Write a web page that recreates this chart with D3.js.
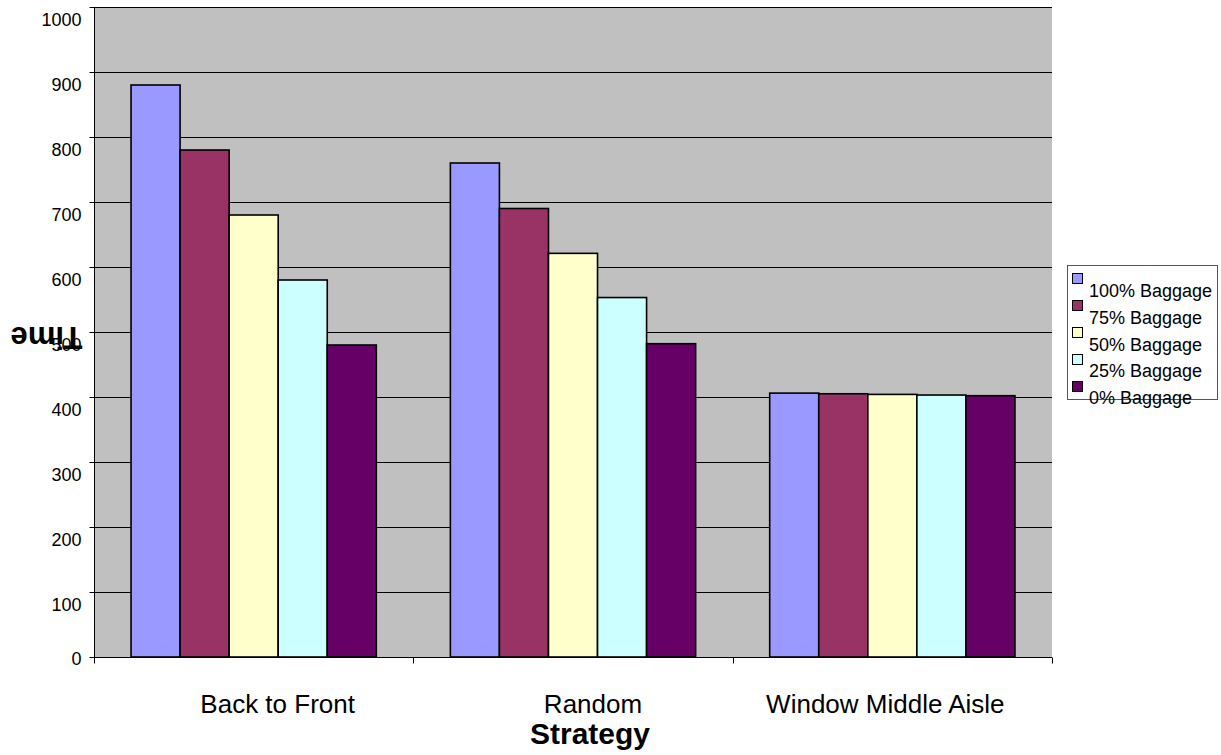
<!DOCTYPE html>
<html>
<head>
<meta charset="utf-8">
<script src="https://cdn.jsdelivr.net/npm/d3@7"></script>
<style>
  html, body { margin: 0; padding: 0; background: #fff; }
  svg { display: block; }
  text { font-family: Arial, "Liberation Sans", sans-serif; fill: #000; }
</style>
</head>
<body>
<svg id="chart" width="1221" height="755"></svg>
<script>
// Boarding time by strategy and baggage load
const strategies = ["Back to Front", "Random", "Window Middle Aisle"];
const seriesNames = ["100% Baggage", "75% Baggage", "50% Baggage", "25% Baggage", "0% Baggage"];
const seriesColors = ["#9999FF", "#993366", "#FFFFCC", "#CCFFFF", "#660066"];
const backToFront = [880, 780, 680, 580, 480];
const randomOrder = [760, 690, 621, 553, 482];
const windowMiddleAisle = [406, 405, 404, 403, 402];
const yTicks = [0, 100, 200, 300, 400, 500, 600, 700, 800, 900, 1000];

const values = [backToFront, randomOrder, windowMiddleAisle];

const svg = d3.select("#chart");
const plot = { left: 94, right: 1052, top: 7, bottom: 657 };

const x = d3.scaleBand().domain(strategies).range([plot.left, plot.right]).padding(0);
const xs = d3.scaleBand().domain(seriesNames).range([0, x.bandwidth()])
  .paddingInner(0).paddingOuter(0.755);
const y = d3.scaleLinear().domain([0, 1000]).range([plot.bottom, plot.top]);

// plot background
svg.append("rect")
  .attr("x", plot.left).attr("y", plot.top)
  .attr("width", plot.right - plot.left).attr("height", plot.bottom - plot.top)
  .attr("fill", "#C0C0C0");

// horizontal gridlines
svg.append("g").selectAll("line")
  .data(yTicks.filter(d => d > 0))
  .join("line")
  .attr("x1", plot.left).attr("x2", plot.right)
  .attr("y1", d => Math.round(y(d)) + 0.5).attr("y2", d => Math.round(y(d)) + 0.5)
  .attr("stroke", "#000").attr("stroke-width", 1);

// bars
const groups = svg.append("g").selectAll("g")
  .data(strategies)
  .join("g")
  .attr("transform", d => `translate(${x(d)},0)`);

groups.selectAll("rect")
  .data((d, i) => seriesNames.map((s, j) => ({ s, j, v: values[i][j] })))
  .join("rect")
  .attr("x", d => xs(d.s))
  .attr("y", d => y(d.v))
  .attr("width", xs.bandwidth())
  .attr("height", d => y(0) - y(d.v))
  .attr("fill", d => seriesColors[d.j])
  .attr("stroke", "#000")
  .attr("stroke-width", 1.6);

// y axis
const yAxis = d3.axisLeft(y).tickValues(yTicks).tickFormat(d3.format("d")).tickSize(5).tickPadding(8);
const gy = svg.append("g")
  .attr("transform", `translate(${plot.left + 0.5},0)`)
  .call(yAxis);
gy.select(".domain").attr("d", `M0,${plot.top}V${plot.bottom + 6}`).attr("stroke", "#000");
gy.selectAll(".tick line").attr("stroke", "#000");
gy.selectAll(".tick text")
  .attr("font-family", "Arial, 'Liberation Sans', sans-serif")
  .attr("font-size", 18)
  .attr("fill", "#000")
  .attr("dy", d => d === 0 ? "0.4em" : "1.0em");

// x axis
const gx = svg.append("g").attr("transform", `translate(0,${plot.bottom + 0.5})`);
gx.append("line")
  .attr("x1", plot.left).attr("x2", plot.right)
  .attr("stroke", "#000").attr("stroke-width", 1.2);
const boundaries = strategies.map(s => x(s)).concat([x(strategies[strategies.length - 1]) + x.bandwidth()]);
gx.selectAll("line.tk")
  .data(boundaries)
  .join("line")
  .attr("class", "tk")
  .attr("x1", d => Math.round(d) + 0.5).attr("x2", d => Math.round(d) + 0.5)
  .attr("y1", 0).attr("y2", 6)
  .attr("stroke", "#000");

const labelShift = [24, 20, -7];
svg.append("g").selectAll("text")
  .data(strategies)
  .join("text")
  .attr("x", (d, i) => x(d) + x.bandwidth() / 2 + labelShift[i])
  .attr("y", 713)
  .attr("text-anchor", "middle")
  .attr("font-size", 26)
  .text(d => d);

// axis titles
svg.append("text")
  .attr("x", 590).attr("y", 744)
  .attr("text-anchor", "middle")
  .attr("font-size", 30)
  .attr("font-weight", "bold")
  .text("Strategy");

svg.append("text")
  .attr("transform", "translate(46.5,327) rotate(180)")
  .attr("text-anchor", "middle")
  .attr("font-size", 31)
  .attr("font-weight", "bold")
  .text("Time");

// legend
const legend = svg.append("g");
legend.append("rect")
  .attr("x", 1067.5).attr("y", 265.5)
  .attr("width", 150).attr("height", 134)
  .attr("fill", "#fff")
  .attr("stroke", "#555").attr("stroke-width", 1);

const items = legend.selectAll("g.item")
  .data(seriesNames)
  .join("g")
  .attr("class", "item");
items.append("rect")
  .attr("x", 1072.5)
  .attr("y", (d, i) => 273.5 + i * 27)
  .attr("width", 10).attr("height", 10)
  .attr("fill", (d, i) => seriesColors[i])
  .attr("stroke", "#000");
items.append("text")
  .attr("x", 1089)
  .attr("y", (d, i) => 297 + i * 26.8)
  .attr("font-size", 18)
  .text(d => d);
</script>
</body>
</html>
